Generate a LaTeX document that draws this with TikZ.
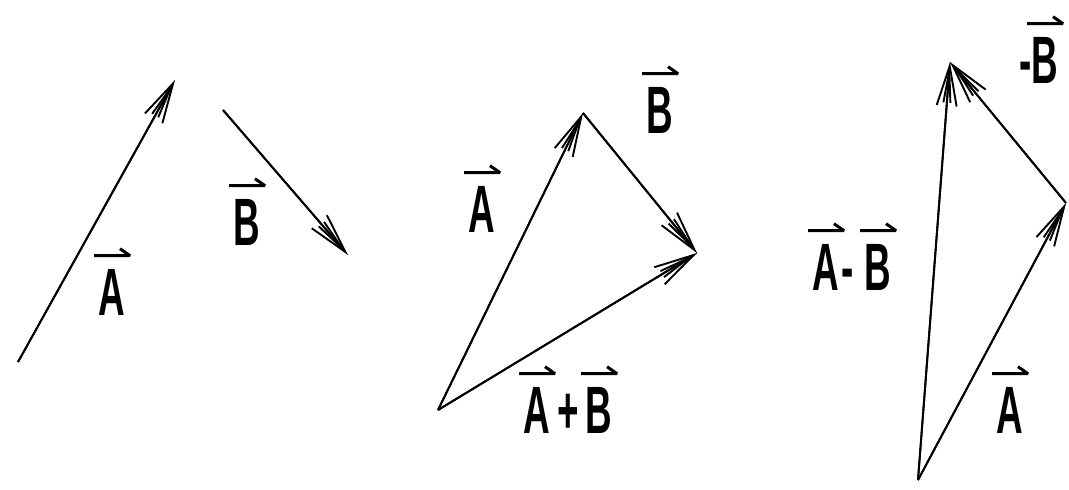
\documentclass[tikz,border=0pt]{standalone}
\usepackage{fontspec}
\setmainfont{Liberation Sans}
\usepackage{graphicx}
\usetikzlibrary{arrows.meta,calc}
\tikzset{
  vec/.style={line width=1.9pt, -{Straight Barb[length=40pt,width=20pt,line width=1.9pt]}},
  vecin/.style={line width=1.9pt, -{Straight Barb[length=32pt,width=7pt,line width=1.9pt]}},
  glyph/.style={font=\fontsize{67}{67}\selectfont\bfseries, inner sep=0pt, anchor=base},
  harp/.style={line width=3pt, line join=bevel}
}
\newcommand\vdraw[2]{%
  \draw[vec] (#1) -- (#2);
  \draw[vecin] (#1) -- (#2);
}
\newcommand\vglyph[4]{%
  \node[glyph] (#1) at (#2,#3) {\scalebox{0.55}[1]{#4}};
  \draw[harp] ($(#1.north)+(-18,-13)$) -- ($(#1.north)+(18,-13)$) -- ++(-10,-7);
}
\newcommand\pglyph[4]{%
  \node[glyph] (#1) at (#2,#3) {\scalebox{0.55}[1]{#4}};
}
\begin{document}
\begin{tikzpicture}[x=1pt,y=-1pt]
\useasboundingbox (0,0) rectangle (1069,490);
% panel 1
\coordinate (a1s) at (18,362);
\coordinate (a1e) at (175,80);
\coordinate (b1s) at (223,110);
\coordinate (b1e) at (348,255);
\vdraw{a1s}{a1e}
\vdraw{b1s}{b1e}
\vglyph{l1A}{112}{315}{A}
\vglyph{l1B}{247}{245}{B}
% panel 2
\coordinate (o2) at (438,410);
\coordinate (p2) at (583,113);
\coordinate (q2) at (697,253);
\vdraw{o2}{p2}
\vdraw{p2}{q2}
\vdraw{o2}{q2}
\vglyph{l2A}{482}{232}{A}
\vglyph{l2B}{660}{133}{B}
\vglyph{l2sA}{537}{433}{A}
\pglyph{l2plus}{568}{433}{+}
\vglyph{l2sB}{599}{433}{B}
% panel 3
\coordinate (o3) at (918,480);
\coordinate (r3) at (1066,203);
\coordinate (s3) at (950,62);
\vdraw{o3}{r3}
\vdraw{r3}{s3}
\vdraw{o3}{s3}
\pglyph{l3m}{1026}{83}{-}
\vglyph{l3B}{1045}{83}{B}
\vglyph{l3dA}{826}{290}{A}
\pglyph{l3dm}{848}{290}{-}
\vglyph{l3dB}{878}{290}{B}
\vglyph{l3A}{1010}{433}{A}
\end{tikzpicture}
\end{document}
